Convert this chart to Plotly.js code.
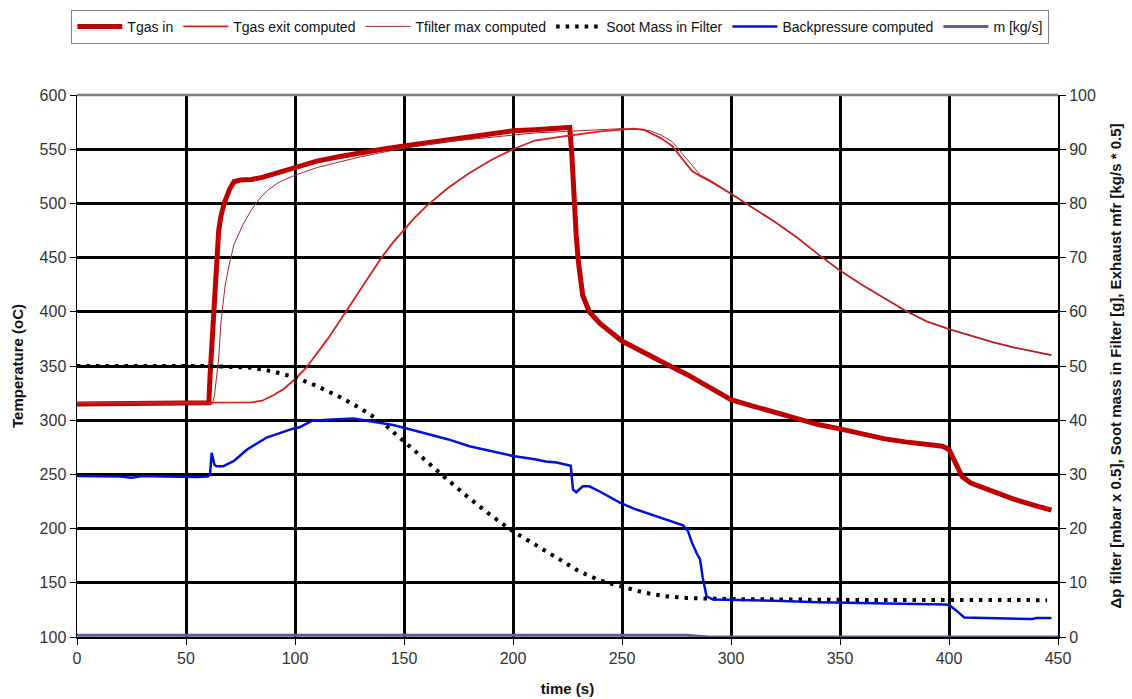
<!DOCTYPE html>
<html>
<head>
<meta charset="utf-8">
<script src="https://cdn.plot.ly/plotly-3.0.1.min.js"></script>
<style>html,body{margin:0;padding:0;background:#fff}#chart{width:1132px;height:699px}</style>
</head>
<body>
<div id="chart"></div>
<script>
// ---- data (time in s) ----
const tIn = [0,10,20,30,40,50,60,60.5,61,62,63,64,65,66,67.5,70,72,75,80,85,90,95,100,110,120,130,140,150,160,170,180,190,200,210,220,226,227,228,229,230,232,235,240,250,260,270,280,290,300,310,320,330,340,350,360,370,380,390,397,400,403,406,410,420,430,440,447];
const TgasIn = [315,315,316,315,315,316,315,316,340,375,420,455,475,488,500,513,520,521.5,522,524,527,530,534,539,543,547,550,553,556,559,561,564,567,568,569,570,545,500,470,446,415,400,389,373,362,352,342,331,319,313,307,301,296,292,287,283,280,278,276,273,260,248,242,234,227,221,217];

const tEx = [0,20,40,60,70,80,85,90,95,100,105,110,115,120,125,130,135,140,145,150,155,160,170,180,190,200,210,220,230,240,250,255,260,263,268,273,278,282,286,290,300,310,320,330,340,350,360,370,380,390,400,410,420,430,440,447];
const TgasExit = [316,316,316,316,316,316.5,318,323,329,338,348,361,375,390,405,420,436,451,464,476,487,497,514,528,540,550,558,561,564,566.5,568,569,568,565,560,553,540,530,525,521,509,496,483,469,453,438,425,413,401,391,384,378,372,367,363,360];

const tFm = [0,20,40,60,62,63,64,65,66,67,68,70,72,76,80,84,88,93,100,110,120,130,140,150,160,170,180,190,200,210,220,230,240,250,258,263,268,273,278,283,286,290,300,310,320,330,340,350,360,370,380,390,400,410,420,430,440,447];
const TfilterMax = [315,315,315,315,315,322,340,357,390,410,425,445,462,480,494,505,513,520,526,533,538,543,547,551,554,557,559,561,563,565,566,567,568,569,568,567,563,557,545,533,526,522,509,496,483,469,453,438,425,413,401,391,384,378,372,367,363,360];

const tSoot = [0,20,40,60,80,90,100,110,120,130,140,150,160,170,180,190,200,210,220,230,240,250,260,270,280,290,300,350,400,445];
const sootMass = [50,50,50,50,49.7,49,47.9,46.3,44.4,42.2,39.6,36.0,32.6,29.0,25.6,22.4,19.5,17,14.5,12.2,10.4,9.3,8.2,7.5,7.2,7.1,7.0,6.85,6.8,6.8];

const tBp = [0,10,20,25,30,40,50,55,60,61,61.8,63,64,67,72,78,87,98,102,108,115,121,127,133,140,145,150,155,162,170,180,190,200,210,215,220,224,226.5,227.5,229,232,235,240,249,256,263,270,278,280.3,282,284.2,285.8,287,288.8,291.8,300,320,340,360,380,398,400,403,407,420,430,438,440,447];
const backpressure = [29.7,29.7,29.6,29.4,29.7,29.6,29.5,29.5,29.6,30,34,31.8,31.5,31.5,32.5,34.6,36.8,38.3,38.7,39.9,40.1,40.2,40.3,39.9,39.5,39.1,38.6,38.1,37.4,36.5,35.2,34.3,33.4,32.8,32.4,32.2,31.8,31.6,27.2,26.7,27.8,27.8,26.8,24.8,23.6,22.6,21.6,20.6,19.5,17.5,15.5,14.3,11,7.5,6.9,6.85,6.7,6.4,6.3,6.1,6.0,5.9,5,3.6,3.5,3.5,3.3,3.5,3.5];

const tM = [0,280,285,290,450];
const massFlow = [0.3,0.3,0.15,0,0];

const xTicks = [0,50,100,150,200,250,300,350,400,450];
const yTicks = [100,150,200,250,300,350,400,450,500,550,600];
const y2Ticks = [0,10,20,30,40,50,60,70,80,90,100];

const names = ['Tgas in','Tgas exit computed','Tfilter max computed','Soot Mass in Filter','Backpressure computed','m [kg/s]'];

const FONT = 'Liberation Sans, Arial, sans-serif';

const traces = [
  {x:tIn, y:TgasIn, name:names[0], mode:'lines', line:{color:'#BE0000', width:5}, yaxis:'y'},
  {x:tEx, y:TgasExit, name:names[1], mode:'lines', line:{color:'#D81E1E', width:1.8}, yaxis:'y'},
  {x:tFm, y:TfilterMax, name:names[2], mode:'lines', line:{color:'#A8282A', width:1}, yaxis:'y'},
  {x:tSoot, y:sootMass, name:names[3], mode:'lines', line:{color:'#000000', width:4, dash:'3.5px,6px'}, yaxis:'y2'},
  {x:tBp, y:backpressure, name:names[4], mode:'lines', line:{color:'#0010DC', width:2.5}, yaxis:'y2'},
  {x:tM, y:massFlow, name:names[5], mode:'lines', line:{color:'#6B5B95', width:3}, yaxis:'y2'}
];

const layout = {
  width:1132, height:699,
  margin:{l:77, r:74, t:95, b:62},
  paper_bgcolor:'#ffffff', plot_bgcolor:'#ffffff',
  font:{family:FONT, color:'#333333'},
  showlegend:true,
  legend:{orientation:'h', xref:'container', yref:'container', x:0.495, xanchor:'center', y:0.986, yanchor:'top',
          bordercolor:'#7f7f7f', borderwidth:1, font:{size:14, color:'#111111', family:FONT},
          itemwidth:45, traceorder:'normal'},
  xaxis:{range:[0,450], tickvals:xTicks, ticks:'outside', ticklen:6, tickwidth:1, tickcolor:'#000',
         showgrid:true, gridcolor:'#000000', gridwidth:3, zeroline:false,
         showline:true, linecolor:'#000000', linewidth:1.5,
         tickfont:{size:16, color:'#333333'},
         title:{text:'<b>time (s)</b>', font:{size:15, color:'#111111'}, standoff:18}},
  yaxis:{range:[100,600], tickvals:yTicks, ticks:'outside', ticklen:6, tickwidth:1, tickcolor:'#000',
         showgrid:true, gridcolor:'#000000', gridwidth:3, zeroline:false,
         showline:true, linecolor:'#000000', linewidth:1.5,
         tickfont:{size:16, color:'#333333'},
         title:{text:'<b>Temperature (oC)</b>', font:{size:15, color:'#111111'}, standoff:12}},
  yaxis2:{range:[0,100], tickvals:y2Ticks, overlaying:'y', side:'right', ticks:'outside', ticklen:6, tickwidth:1, tickcolor:'#000',
          showgrid:false, zeroline:false, showline:true, linecolor:'#000000', linewidth:2,
          tickfont:{size:16, color:'#333333'},
          title:{text:'<b>Δp filter [mbar x 0.5], Soot mass in Filter [g], Exhaust mfr [kg/s * 0.5]</b>', font:{size:15, color:'#111111'}, standoff:16}},
  shapes:[{type:'line', xref:'paper', yref:'paper', x0:0, x1:1, y0:1, y1:1, line:{color:'#808080', width:2.5}}]
};

Plotly.newPlot('chart', traces, layout, {displayModeBar:false, staticPlot:true});
</script>
</body>
</html>
